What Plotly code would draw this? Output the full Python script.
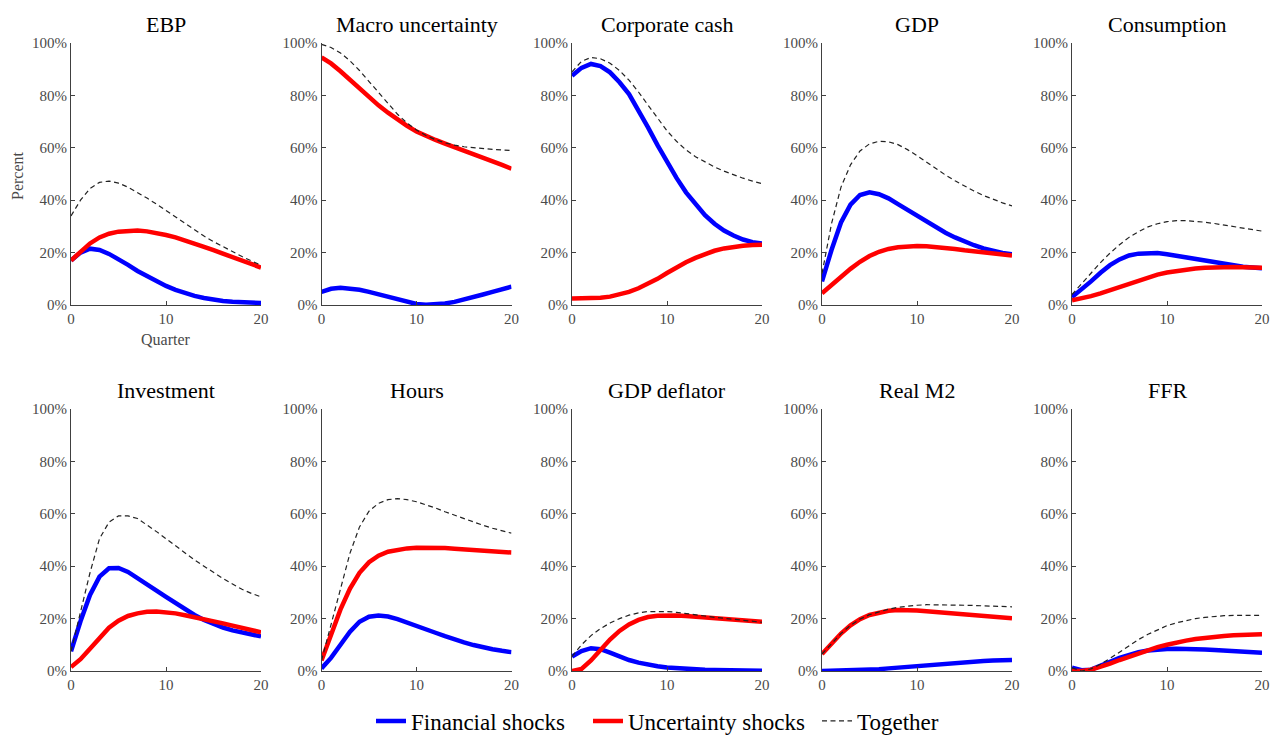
import plotly.graph_objects as go
from plotly.subplots import make_subplots

W, H = 1272, 736

quarters = list(range(21))
y_ticks = [0, 20, 40, 60, 80, 100]
y_tick_labels = ["0%", "20%", "40%", "60%", "80%", "100%"]
x_ticks = [0, 10, 20]

panel_titles = ["EBP", "Macro uncertainty", "Corporate cash", "GDP", "Consumption",
                "Investment", "Hours", "GDP deflator", "Real M2", "FFR"]

# Share of forecast-error variance (percent), by horizon in quarters
ebp_fin = [17, 20, 21.5, 21, 19.5, 17.5, 15.3, 13, 11, 9, 7.3, 5.8, 4.5, 3.5, 2.7, 2, 1.5, 1.2, 1, 0.9, 0.8]
ebp_unc = [17, 20.5, 23.5, 25.8, 27.2, 28, 28.4, 28.4, 28.1, 27.5, 26.7, 25.8, 24.7, 23.5, 22.2, 20.9, 19.5, 18.2, 16.9, 15.6, 14.3]
ebp_tog = [34, 40, 44.5, 46.8, 47.3, 46.5, 45, 43, 40.8, 38.5, 36, 33.5, 31, 28.6, 26.3, 24.2, 22.2, 20.3, 18.5, 16.8, 15.2]

unc_fin = [5, 6.2, 6.6, 6.4, 5.8, 5, 4, 3, 2, 1.1, 0.4, 0.1, 0.2, 0.6, 1.2, 2, 3, 4, 5, 6, 7]
unc_unc = [94.5, 92.2, 89.2, 85.9, 82.5, 79.2, 76.2, 73.4, 70.8, 68.4, 66.2, 64.5, 63.0, 61.6, 60.3, 59.0, 57.7, 56.4, 55.0, 53.5, 52.0]
unc_tog = [99.5, 98.3, 96.2, 93.2, 89.5, 85.3, 81, 76.8, 72.8, 69.5, 66.8, 64.7, 63.1, 61.9, 61.0, 60.4, 60.0, 59.7, 59.4, 59.2, 59.0]

cash_fin = [87.5, 90.5, 92, 91.2, 88.8, 85.0, 80.5, 74.5, 67.8, 61, 54.5, 48.5, 43, 38.3, 34.3, 31, 28.4, 26.5, 25, 24, 23.5]
cash_unc = [2.5, 2.5, 2.6, 2.8, 3.2, 4.0, 5.0, 6.4, 8.0, 10.0, 12.2, 14.3, 16.3, 18.0, 19.5, 20.7, 21.6, 22.2, 22.6, 22.9, 23.0]
cash_tog = [89, 93, 94.5, 94, 92.3, 89.5, 85.8, 81.3, 76.3, 71.2, 66.5, 62.5, 59.2, 56.6, 54.5, 52.7, 51.1, 49.7, 48.4, 47.3, 46.3]

gdp_fin = [9, 21, 31.5, 38.3, 42, 43, 42.3, 40.7, 38.5, 36.3, 34, 31.8, 29.6, 27.6, 25.8, 24.2, 22.8, 21.6, 20.6, 19.9, 19.4]
gdp_unc = [4.5, 7.7, 10.8, 13.8, 16.5, 18.7, 20.3, 21.4, 22.0, 22.4, 22.5, 22.4, 22.2, 21.8, 21.4, 20.9, 20.5, 20.0, 19.6, 19.2, 18.9]
gdp_tog = [12, 31, 45, 53.5, 58.8, 61.5, 62.5, 62.3, 61.2, 59.3, 57, 54.5, 52, 49.6, 47.4, 45.4, 43.5, 41.8, 40.3, 39, 37.8]

cons_fin = [3, 5.8, 9, 12.3, 15.2, 17.4, 18.9, 19.6, 19.9, 19.8, 19.4, 18.8, 18.2, 17.5, 16.8, 16.1, 15.5, 15, 14.6, 14.3, 14.0]
cons_unc = [1.8, 2.5, 3.4, 4.4, 5.6, 6.9, 8.2, 9.5, 10.6, 11.6, 12.4, 13.0, 13.5, 13.9, 14.2, 14.4, 14.5, 14.5, 14.4, 14.3, 14.2]
cons_tog = [4, 8, 12.3, 16.2, 19.8, 23, 25.8, 28, 29.8, 31, 31.8, 32.2, 32.2, 32, 31.6, 31.1, 30.5, 29.9, 29.3, 28.7, 28.2]

inv_fin = [7.5, 19, 29, 36, 39.2, 39.3, 37.8, 35.6, 33.1, 30.7, 28.3, 25.9, 23.6, 21.4, 19.5, 17.9, 16.6, 15.5, 14.6, 13.8, 13.2]
inv_unc = [1.5, 4.5, 8.5, 12.8, 16.5, 19.2, 21.0, 22.0, 22.6, 22.7, 22.5, 22.0, 21.3, 20.6, 19.8, 19.0, 18.2, 17.3, 16.5, 15.6, 14.8]
inv_tog = [7.5, 22, 37.5, 50.5, 56.8, 59.2, 59.2, 58.2, 55.8, 53.2, 50.5, 47.7, 45, 42.4, 40, 37.6, 35.3, 33.2, 31.2, 29.6, 28.3]

hours_fin = [1, 5, 10, 15, 18.8, 20.7, 21.2, 20.8, 19.8, 18.6, 17.3, 15.9, 14.6, 13.3, 12.0, 10.9, 9.9, 9.0, 8.3, 7.7, 7.2]
hours_unc = [4, 14, 23.5, 31.5, 37.5, 41.5, 44, 45.5, 46.3, 46.8, 47, 47.1, 47, 46.9, 46.7, 46.5, 46.2, 45.9, 45.7, 45.4, 45.2]
hours_tog = [4, 18, 32, 45, 55, 61, 64, 65.4, 65.8, 65.4, 64.6, 63.5, 62.2, 60.8, 59.5, 58.1, 56.8, 55.6, 54.5, 53.5, 52.6]

defl_fin = [5.5, 7.6, 8.7, 8.3, 7.0, 5.5, 4.2, 3.2, 2.4, 1.8, 1.3, 1.0, 0.8, 0.6, 0.45, 0.35, 0.25, 0.2, 0.15, 0.1, 0.1]
defl_unc = [0, 0.8, 4, 8, 12, 15.3, 17.8, 19.5, 20.6, 21.1, 21.3, 21.2, 21, 20.7, 20.4, 20.1, 19.8, 19.5, 19.3, 19.0, 18.8]
defl_tog = [5.5, 10, 13.5, 16.2, 18.3, 20, 21.3, 22.2, 22.7, 22.8, 22.7, 22.4, 22.0, 21.5, 21.0, 20.5, 20.1, 19.7, 19.3, 18.9, 18.6]

m2_fin = [0, 0.05, 0.1, 0.2, 0.35, 0.5, 0.7, 1.0, 1.3, 1.65, 2.0, 2.4, 2.75, 3.05, 3.3, 3.5, 3.7, 3.85, 4.0, 4.1, 4.2]
m2_unc = [6.5, 10.5, 14.3, 17.4, 19.8, 21.4, 22.4, 23.0, 23.3, 23.3, 23.1, 22.8, 22.5, 22.1, 21.7, 21.3, 20.9, 20.6, 20.4, 20.2, 20.1]
m2_tog = [6.5, 10.5, 14.3, 17.4, 19.8, 21.5, 22.7, 23.6, 24.3, 24.8, 25.1, 25.3, 25.3, 25.3, 25.2, 25.1, 25.0, 24.9, 24.7, 24.6, 24.5]

ffr_fin = [1.3, 0.3, 0.5, 1.8, 3.5, 5.0, 6.3, 7.2, 7.8, 8.2, 8.4, 8.5, 8.5, 8.4, 8.2, 8.0, 7.8, 7.6, 7.4, 7.2, 7.0]
ffr_unc = [0, 0, 0.5, 1.5, 2.8, 4.2, 5.5, 6.8, 8.0, 9.1, 10.0, 10.9, 11.6, 12.2, 12.7, 13.1, 13.4, 13.6, 13.8, 13.9, 14.0]
ffr_tog = [1.2, 0, 0.8, 2.6, 4.8, 7.2, 9.6, 12, 14, 15.8, 17.3, 18.4, 19.3, 20.0, 20.5, 20.9, 21.1, 21.2, 21.2, 21.2, 21.2]

panels = [
    (ebp_fin, ebp_unc, ebp_tog), (unc_fin, unc_unc, unc_tog), (cash_fin, cash_unc, cash_tog),
    (gdp_fin, gdp_unc, gdp_tog), (cons_fin, cons_unc, cons_tog),
    (inv_fin, inv_unc, inv_tog), (hours_fin, hours_unc, hours_tog), (defl_fin, defl_unc, defl_tog),
    (m2_fin, m2_unc, m2_tog), (ffr_fin, ffr_unc, ffr_tog),
]

FONT = "Liberation Serif, Times New Roman, DejaVu Serif, serif"
AXIS_COLOR = "#404040"
TICK_COLOR = "#4a4a4a"

fig = make_subplots(rows=2, cols=5)

# pixel geometry of each subplot's plotting area
col_left = [71, 321.5, 572, 822, 1072]
plot_w = 190
row_top = [43, 409]
plot_h = 262

series_style = [
    ("Financial shocks", dict(color="#0000ff", width=4.5), "legend"),
    ("Uncertainty shocks", dict(color="#ff0000", width=4.5), "legend2"),
    ("Together", dict(color="#222222", width=1.2, dash="5px,3.5px"), "legend3"),
]

for i, series in enumerate(panels):
    r, c = i // 5 + 1, i % 5 + 1
    for values, (name, line, leg) in zip(series, series_style):
        fig.add_trace(go.Scatter(x=quarters, y=values, mode="lines", name=name, line=line,
                                 showlegend=(i == 0), legend=leg), row=r, col=c)

    x0 = col_left[c - 1]
    top = row_top[r - 1]
    xd = [x0 / W, (x0 + plot_w) / W]
    yd = [1 - (top + plot_h) / H, 1 - top / H]
    axis_common = dict(showline=True, linecolor=AXIS_COLOR, linewidth=1, showgrid=False,
                       zeroline=False, ticks="inside", ticklen=4, tickcolor=AXIS_COLOR,
                       tickfont=dict(family=FONT, size=15, color=TICK_COLOR))
    fig.update_xaxes(domain=xd, range=[0, 20], tickmode="array", tickvals=x_ticks,
                     ticktext=[str(v) for v in x_ticks], row=r, col=c, **axis_common)
    fig.update_yaxes(domain=yd, range=[0, 100], tickmode="array", tickvals=y_ticks,
                     ticktext=y_tick_labels, row=r, col=c, **axis_common)

    fig.add_annotation(text=panel_titles[i], xref="paper", yref="paper",
                       x=(x0 + plot_w / 2) / W, y=1 - (top - 19) / H,
                       xanchor="center", yanchor="middle", showarrow=False,
                       font=dict(family=FONT, size=22, color="#000000"))

# axis labels on the first panel
fig.add_annotation(text="Percent", xref="paper", yref="paper", x=18 / W, y=1 - 176 / H,
                   textangle=-90, xanchor="center", yanchor="middle", showarrow=False,
                   font=dict(family=FONT, size=16, color=TICK_COLOR))
fig.add_annotation(text="Quarter", xref="paper", yref="paper", x=166 / W, y=1 - 340 / H,
                   xanchor="center", yanchor="middle", showarrow=False,
                   font=dict(family=FONT, size=16, color=TICK_COLOR))

legend_common = dict(orientation="h", xanchor="left", y=1 - 721 / H, yanchor="middle",
                     font=dict(family=FONT, size=23, color="#000000"),
                     bgcolor="rgba(0,0,0,0)", itemwidth=30)

fig.update_layout(
    width=W, height=H,
    margin=dict(l=0, r=0, t=0, b=0, autoexpand=False),
    paper_bgcolor="white", plot_bgcolor="white",
    legend=dict(x=371 / W, **legend_common),
    legend2=dict(x=588 / W, **legend_common),
    legend3=dict(x=817 / W, **legend_common),
)

fig.write_html("out.html")
